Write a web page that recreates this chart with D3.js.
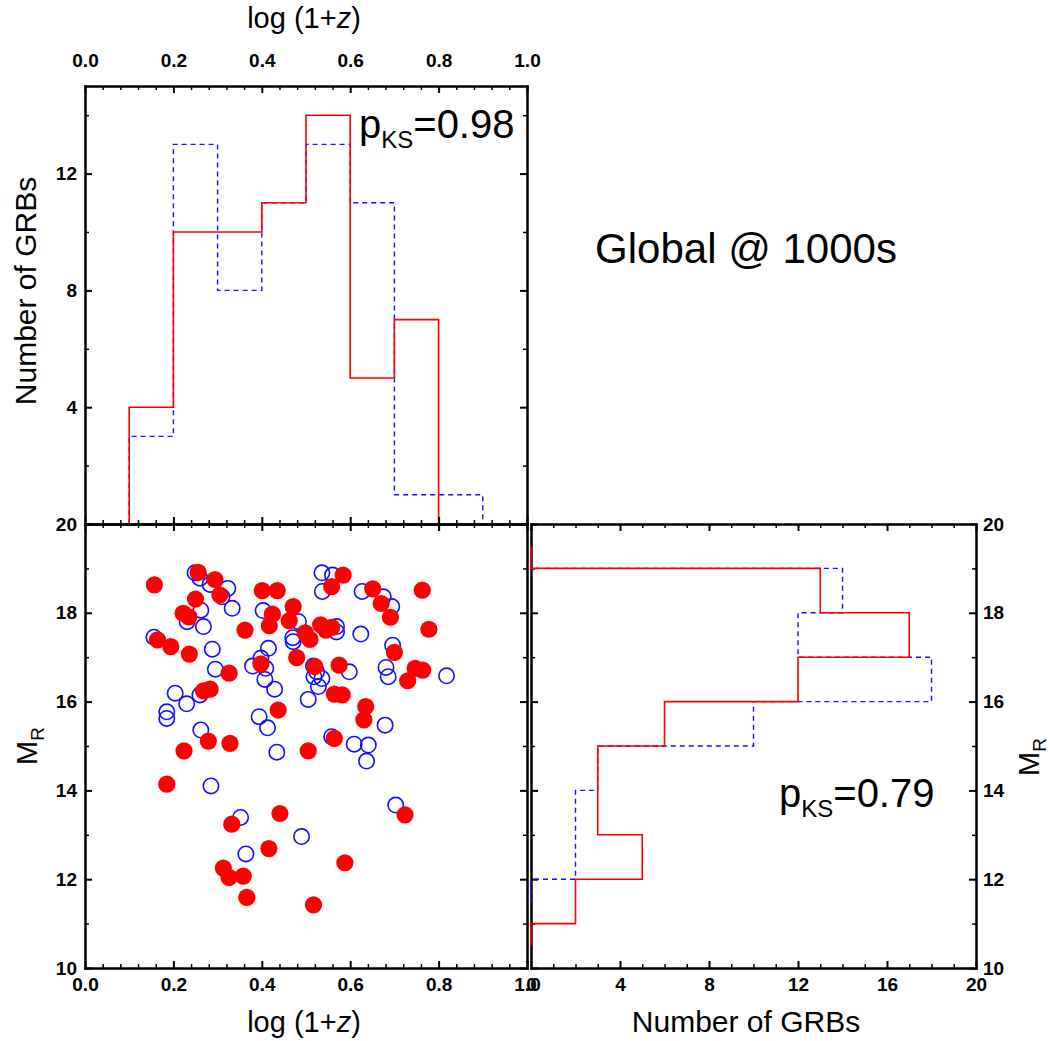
<!DOCTYPE html>
<html><head><meta charset="utf-8">
<script src="https://cdn.jsdelivr.net/npm/d3@7"></script>
<style>
body{margin:0;background:#fff}
text{font-family:"Liberation Sans",Arial,sans-serif}
</style>
</head><body>
<svg id="c" width="1051" height="1041"></svg>
<script>
// ---------- data ----------
const logZTickLabels = [0, 0.2, 0.4, 0.6, 0.8, 1.0];
const countTickLabelsTop = [4, 8, 12];
const countTickLabelsRight = [0, 4, 8, 12, 16, 20];
const mrTickLabels = [10, 12, 14, 16, 18, 20];

// log(1+z) histogram: bins of width 0.1 starting at 0.1
const zBinStart = 0.1, zBinWidth = 0.1;
const zHistRed  = [4, 10, 10, 11, 14, 5, 7];
const zHistBlue = [3, 13, 8, 11, 13, 11, 1, 1];

// M_R histogram: bins of width 1 starting at 20 going down
const mrBinStart = 20, mrBinWidth = -1;
const mrHistRed  = [0, 13, 17, 12, 6, 3, 3, 5, 2, 0];
const mrHistBlue = [0, 14, 12, 18, 10, 3, 2, 2, 0];

// scatter: red filled circles
const redLogZ = [0.157,0.256,0.294,0.305,0.250,0.222,0.235,0.362,0.164,0.194,0.236,0.326,0.268,0.283,0.437,
  0.401,0.435,0.471,0.424,0.417,0.462,0.498,0.509,0.533,0.558,0.479,0.398,0.520,0.584,0.651,0.670,0.691,
  0.763,0.778,0.558,0.700,0.575,0.747,0.764,0.730,0.564,0.582,0.635,0.631,0.279,0.328,0.224,0.505,0.185,
  0.441,0.332,0.416,0.313,0.326,0.358,0.366,0.517,0.564,0.724,0.588,0.545];
const redMR = [18.63,18.91,18.75,18.40,18.31,17.99,17.91,17.61,17.39,17.24,17.07,16.64,16.24,16.28,15.81,
  18.50,18.50,18.14,17.97,17.71,17.82,17.55,17.40,17.73,18.59,16.99,16.85,16.79,18.85,18.54,18.21,17.90,
  18.51,17.63,17.67,17.11,16.82,16.75,16.71,16.47,16.17,16.15,15.89,15.59,15.11,15.06,14.89,14.89,14.14,
  13.48,13.24,12.69,12.25,12.04,12.07,11.59,11.42,15.17,13.45,12.37,17.61];

// scatter: blue open circles
const blueLogZ = [0.156,0.185,0.185,0.204,0.230,0.231,0.262,0.268,0.262,0.260,0.283,0.323,0.333,0.288,0.295,
  0.285,0.352,0.364,0.394,0.413,0.434,0.403,0.415,0.398,0.379,0.409,0.407,0.429,0.470,0.471,0.483,0.490,
  0.505,0.517,0.518,0.536,0.528,0.536,0.537,0.560,0.569,0.569,0.598,0.624,0.627,0.675,0.694,0.696,0.681,
  0.686,0.679,0.558,0.609,0.641,0.637,0.703,0.818,0.260,0.524,0.249,0.310];
const blueMR = [17.45,15.77,15.62,16.19,15.95,17.80,18.06,17.69,15.36,18.78,18.64,18.55,18.10,17.18,16.73,
  14.10,13.39,12.57,15.66,15.41,14.86,18.05,17.20,16.98,16.80,16.75,16.50,16.28,17.44,17.35,17.80,12.96,
  16.05,16.80,16.56,16.52,16.34,18.90,18.48,18.85,17.69,17.57,16.67,17.52,18.48,18.36,18.14,17.27,16.77,
  16.56,15.47,15.21,15.04,15.02,14.66,13.67,16.58,16.15,16.67,18.90,18.36];

// ---------- layout ----------
const svg = d3.select('#c');
const L = 85, M = 527, R0 = 531, R = 976, T = 86, MID = 524, B = 968;
const xZ = d3.scaleLinear([0, 1], [L, M]);
const yN = d3.scaleLinear([0, 15], [MID, T]);
const yM = d3.scaleLinear([10, 20], [B, MID]);
const xN = d3.scaleLinear([0, 20], [R0, R]);

const RED = '#ff0000', BLUE = '#1010ff';

function stepPoints(start, w, counts, halfEnds) {
  const pts = [];
  if (!halfEnds) pts.push([start, 0]);
  counts.forEach((c, i) => {
    let a = start + i * w, b = a + w;
    if (halfEnds && i === 0) a = a + w / 2;
    if (halfEnds && i === counts.length - 1) b = b - w / 2;
    pts.push([a, c], [b, c]);
  });
  if (!halfEnds) pts.push([start + counts.length * w, 0]);
  return pts;
}

// ---------- top histogram (under axes) ----------
const lineTop = d3.line().x(d => xZ(d[0])).y(d => yN(d[1]));
svg.append('path').attr('d', lineTop(stepPoints(zBinStart, zBinWidth, zHistBlue, false)))
  .attr('fill', 'none').attr('stroke', BLUE).attr('stroke-width', 1.4).attr('stroke-dasharray', '5,4');
svg.append('path').attr('d', lineTop(stepPoints(zBinStart, zBinWidth, zHistRed, false)))
  .attr('fill', 'none').attr('stroke', RED).attr('stroke-width', 1.6);

// ---------- scatter ----------
const gs = svg.append('g');
gs.selectAll('circle.b').data(d3.range(blueLogZ.length)).join('circle')
  .attr('cx', i => xZ(blueLogZ[i])).attr('cy', i => yM(blueMR[i])).attr('r', 7.7)
  .attr('fill', 'none').attr('stroke', BLUE).attr('stroke-width', 1.6);
gs.selectAll('circle.r').data(d3.range(redLogZ.length)).join('circle')
  .attr('cx', i => xZ(redLogZ[i])).attr('cy', i => yM(redMR[i])).attr('r', 8.6)
  .attr('fill', RED);

// ---------- axes ----------
function axis(gen, scale, pos, majors, minors, labels, fmt, pad) {
  const g = svg.append('g').attr('transform', pos);
  g.append('g').call(gen(scale).tickValues(minors).tickSizeInner(-4).tickSizeOuter(0).tickFormat(''))
    .call(s => s.selectAll('line').attr('stroke-width', 1.5));
  const ga = g.append('g').call(gen(scale).tickValues(majors).tickSizeInner(-7).tickSizeOuter(0)
    .tickPadding(pad || 8).tickFormat(labels ? fmt : () => ''));
  ga.selectAll('line').attr('stroke-width', 2);
  g.selectAll('.domain').attr('stroke-width', 2).attr('stroke-linecap', 'square');
  ga.selectAll('text').attr('font-size', 19).attr('font-weight', 'bold')
    .attr('font-family', '"Liberation Sans",Arial,sans-serif').attr('fill', '#000');
  if (labels) ga.selectAll('.tick').filter(d => !labels.includes(d)).select('text').remove();
  return g;
}
const f1 = d3.format('.1f'), f0 = d3.format('d');
const zMinor = d3.range(0, 1.001, 0.04).filter(v => Math.abs(v / 0.2 - Math.round(v / 0.2)) > 1e-6);
const nMinorTop = [2, 6, 10, 14];
const mrMinor = [11, 13, 15, 17, 19];
const nMinorRight = d3.range(0, 21, 1).filter(v => v % 4 !== 0);
const zMaj = [0, 0.2, 0.4, 0.6, 0.8, 1.0];
const nMajTop = [0, 4, 8, 12];

// top-left panel
axis(d3.axisTop, xZ, `translate(0,${T})`, zMaj, zMinor, logZTickLabels, f1, 19);
axis(d3.axisBottom, xZ, `translate(0,${MID})`, zMaj, zMinor, null);
axis(d3.axisLeft, yN, `translate(${L},0)`, nMajTop, nMinorTop, countTickLabelsTop, f0, 8);
axis(d3.axisRight, yN, `translate(${M},0)`, nMajTop, nMinorTop, null);
// bottom-left panel
axis(d3.axisTop, xZ, `translate(0,${MID})`, zMaj, zMinor, null);
axis(d3.axisBottom, xZ, `translate(0,${B})`, zMaj, zMinor, logZTickLabels, f1, 10);
axis(d3.axisLeft, yM, `translate(${L},0)`, mrTickLabels, mrMinor, mrTickLabels, f0, 8);
axis(d3.axisRight, yM, `translate(${M},0)`, mrTickLabels, mrMinor, null);
// bottom-right panel
axis(d3.axisTop, xN, `translate(0,${MID})`, countTickLabelsRight, nMinorRight, null);
axis(d3.axisBottom, xN, `translate(0,${B})`, countTickLabelsRight, nMinorRight, countTickLabelsRight, f0, 10);
axis(d3.axisLeft, yM, `translate(${R0},0)`, mrTickLabels, mrMinor, null);
axis(d3.axisRight, yM, `translate(${R},0)`, mrTickLabels, mrMinor, mrTickLabels, f0, 7);

// ---------- right histogram (over axes) ----------
const lineRight = d3.line().x(d => xN(d[1])).y(d => yM(d[0]));
svg.append('path').attr('d', lineRight(stepPoints(mrBinStart, mrBinWidth, mrHistBlue, true)))
  .attr('fill', 'none').attr('stroke', BLUE).attr('stroke-width', 1.4).attr('stroke-dasharray', '5,4');
svg.append('path').attr('d', lineRight(stepPoints(mrBinStart, mrBinWidth, mrHistRed, true)))
  .attr('fill', 'none').attr('stroke', RED).attr('stroke-width', 1.6);

// ---------- titles ----------
function logTitle(x, y) {
  const t = svg.append('text').attr('x', x).attr('y', y).attr('text-anchor', 'middle').attr('font-size', 29);
  t.append('tspan').text('log (1+');
  t.append('tspan').attr('font-style', 'italic').text('z');
  t.append('tspan').text(')');
}
logTitle(304, 28);
logTitle(304, 1032);

svg.append('text').attr('x', 746).attr('y', 1032).attr('text-anchor', 'middle')
  .attr('font-size', 30).text('Number of GRBs');
svg.append('text').attr('transform', `translate(36,291) rotate(-90)`)
  .attr('text-anchor', 'middle').attr('font-size', 30).text('Number of GRBs');

function mrTitle(x, y) {
  const t = svg.append('text').attr('transform', `translate(${x},${y}) rotate(-90)`)
    .attr('text-anchor', 'middle').attr('font-size', 29);
  t.append('tspan').text('M');
  t.append('tspan').attr('font-size', 19).attr('dy', 7).text('R');
}
mrTitle(37, 746);
mrTitle(1039, 757);

function pks(x, y, val) {
  const t = svg.append('text').attr('x', x).attr('y', y).attr('font-size', 40);
  t.append('tspan').text('p');
  t.append('tspan').attr('font-size', 24).attr('dy', 10).text('KS');
  t.append('tspan').attr('dy', -10).text('=' + val);
}
pks(359, 138, '0.98');
pks(779, 807, '0.79');

svg.append('text').attr('x', 746).attr('y', 263).attr('text-anchor', 'middle')
  .attr('font-size', 42).text('Global @ 1000s');
</script>
</body></html>
